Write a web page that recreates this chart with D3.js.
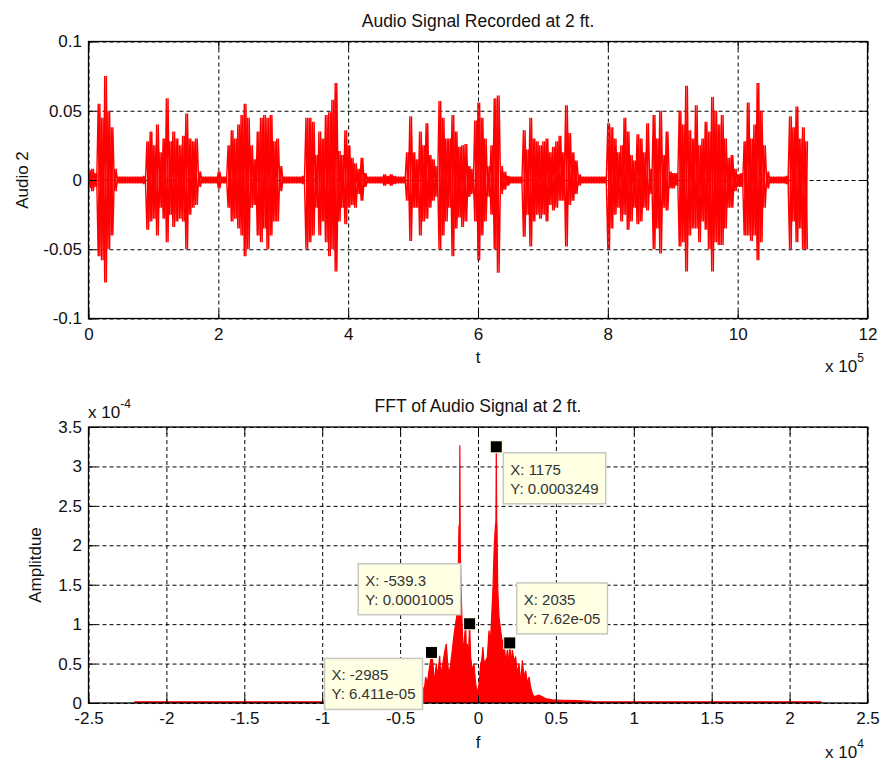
<!DOCTYPE html>
<html><head><meta charset="utf-8">
<script src="https://cdn.jsdelivr.net/npm/d3@7"></script>
<style>
html,body{margin:0;padding:0;background:#fff;}
svg{display:block;}
</style></head><body>
<svg id="chart" width="883" height="761"></svg>
<script>
// ---------------- DATA ----------------
// Audio signal envelope: one max and one min value per block of samples
const audioBlockSamples = 5000;
const audioHi = [
 0.007,0.008,0.005,0.055,0.045,0.075,0.05,0.038,0.008,0.0025,
 0.0025,0.0025,0.0025,0.0025,0.0025,0.0025,0.0025,0.003,0.028,0.035,
 0.025,0.04,0.02,0.03,0.059,0.028,0.035,0.03,0.025,0.032,
 0.048,0.03,0.028,0.03,0.006,0.0025,0.0025,0.0025,0.0025,0.0025,
 0.006,0.0025,0.0025,0.025,0.036,0.03,0.04,0.047,0.055,0.045,
 0.025,0.015,0.035,0.045,0.047,0.045,0.047,0.028,0.03,0.01,
 0.0025,0.0025,0.0025,0.0025,0.0025,0.0025,0.003,0.045,0.045,0.042,
 0.018,0.035,0.03,0.047,0.049,0.058,0.07,0.021,0.018,0.036,
 0.025,0.016,0.012,0.008,0.016,0.005,0.0025,0.0025,0.0025,0.0025,
 0.0025,0.004,0.003,0.004,0.003,0.0025,0.0025,0.0025,0.02,0.046,
 0.02,0.015,0.035,0.025,0.041,0.018,0.015,0.01,0.057,0.045,
 0.03,0.03,0.047,0.035,0.024,0.025,0.026,0.01,0.008,0.043,
 0.056,0.045,0.03,0.01,0.025,0.059,0.061,0.01,0.006,0.003,
 0.0025,0.0025,0.0025,0.0025,0.036,0.022,0.045,0.03,0.028,0.025,
 0.028,0.03,0.02,0.024,0.028,0.032,0.02,0.054,0.034,0.02,
 0.014,0.004,0.0025,0.0025,0.0025,0.0025,0.0025,0.0025,0.0025,0.0025,
 0.041,0.038,0.03,0.02,0.025,0.045,0.035,0.018,0.014,0.033,
 0.03,0.02,0.041,0.008,0.047,0.03,0.05,0.018,0.035,0.006,
 0.005,0.005,0.05,0.04,0.068,0.036,0.03,0.054,0.025,0.03,
 0.042,0.035,0.06,0.05,0.04,0.047,0.03,0.016,0.018,0.008,
 0.004,0.005,0.028,0.056,0.03,0.04,0.07,0.05,0.025,0.006,
 0.0025,0.0025,0.0025,0.0025,0.0025,0.003,0.046,0.038,0.053,0.03,
 0.038,0.028];
const audioLo = [
 -0.006,-0.008,-0.005,-0.055,-0.058,-0.074,-0.05,-0.04,-0.008,-0.0025,
 -0.0025,-0.0025,-0.0025,-0.0025,-0.0025,-0.0025,-0.0025,-0.003,-0.036,-0.03,
 -0.028,-0.04,-0.02,-0.028,-0.045,-0.025,-0.034,-0.03,-0.028,-0.03,
 -0.05,-0.025,-0.02,-0.018,-0.005,-0.0025,-0.0025,-0.0025,-0.0025,-0.0025,
 -0.006,-0.0025,-0.0025,-0.02,-0.03,-0.028,-0.035,-0.04,-0.055,-0.05,
 -0.02,-0.018,-0.04,-0.045,-0.035,-0.05,-0.04,-0.03,-0.03,-0.008,
 -0.0025,-0.0025,-0.0025,-0.0025,-0.0025,-0.0025,-0.003,-0.05,-0.045,-0.04,
 -0.02,-0.04,-0.03,-0.045,-0.055,-0.05,-0.066,-0.03,-0.02,-0.032,
 -0.02,-0.018,-0.02,-0.01,-0.015,-0.005,-0.0025,-0.0025,-0.0025,-0.0025,
 -0.0025,-0.004,-0.003,-0.004,-0.003,-0.0025,-0.0025,-0.0025,-0.015,-0.044,
 -0.02,-0.02,-0.04,-0.03,-0.028,-0.02,-0.015,-0.012,-0.05,-0.04,
 -0.03,-0.02,-0.055,-0.035,-0.027,-0.034,-0.03,-0.012,-0.01,-0.03,
 -0.058,-0.04,-0.03,-0.012,-0.025,-0.05,-0.067,-0.01,-0.007,-0.004,
 -0.0025,-0.0025,-0.0025,-0.0025,-0.041,-0.025,-0.048,-0.03,-0.025,-0.028,
 -0.025,-0.03,-0.018,-0.022,-0.02,-0.015,-0.015,-0.048,-0.018,-0.015,
 -0.01,-0.004,-0.0025,-0.0025,-0.0025,-0.0025,-0.0025,-0.0025,-0.0025,-0.0025,
 -0.05,-0.035,-0.025,-0.02,-0.03,-0.025,-0.036,-0.03,-0.02,-0.032,
 -0.03,-0.02,-0.022,-0.01,-0.05,-0.035,-0.053,-0.02,-0.022,-0.006,
 -0.006,-0.004,-0.048,-0.045,-0.066,-0.04,-0.035,-0.035,-0.045,-0.03,
 -0.036,-0.05,-0.066,-0.045,-0.047,-0.047,-0.035,-0.02,-0.02,-0.008,
 -0.005,-0.005,-0.04,-0.04,-0.044,-0.04,-0.058,-0.045,-0.02,-0.006,
 -0.0025,-0.0025,-0.0025,-0.0025,-0.0025,-0.003,-0.05,-0.03,-0.045,-0.035,
 -0.05,-0.05];

const audioXTicks = [0, 2e5, 4e5, 6e5, 8e5, 10e5, 12e5];
const audioXTickLabels = ["0","2","4","6","8","10","12"];
const audioYTicks = [-0.1, -0.05, 0, 0.05, 0.1];
const audioYTickLabels = ["-0.1","-0.05","0","0.05","0.1"];

// FFT magnitude spectrum (frequency in Hz, amplitude in units of 1e-4)
const fftFreq = [-22050,-5500,-4500,-3700,-3574,-3531,-3450,-3360,-3253,-3146,
 -3039,-2985,-2889,-2820,-2761,-2675,-2610,-2547,-2461,-2400,
 -2333,-2226,-2119,-2033,-1947,-1862,-1755,-1648,-1541,-1434,
 -1370,-1284,-1220,-1190,-1165,-1140,-1091,-1006,-950,-899,
 -792,-740,-685,-620,-539.3,-471,-364,-257,-150,-43,
 64,171,235,321,385,492,599,706,792,877,
 963,1049,1113,1150,1175,1200,1220,1263,1348,1455,
 1562,1669,1776,1883,1960,2035,2119,2204,2311,2418,
 2525,2632,2739,2846,2953,3060,3167,3274,3381,3488,
 3595,3916,4130,4344,4772,5414,6390,7220,7500,22050];
const fftAmp = [0.015,0.015,0.04,0.08,0.12,0.20,0.15,0.33,0.245,0.414,
 0.54,0.641,0.50,0.30,0.33,0.50,0.35,0.414,0.60,0.40,
 0.414,0.54,0.67,0.75,0.50,0.35,0.50,0.67,0.86,1.01,
 1.09,1.47,2.25,2.0,3.27,2.0,1.47,0.92,0.6,0.75,
 1.01,0.6,0.75,0.55,1.005,0.58,0.41,0.50,0.245,0.12,
 0.245,0.50,0.54,0.71,0.50,0.54,0.58,0.92,0.75,1.09,
 1.47,2.02,2.23,2.3,3.249,2.3,2.23,1.47,1.09,0.92,
 0.75,0.84,0.50,0.67,0.45,0.762,0.50,0.67,0.54,0.58,
 0.37,0.50,0.245,0.54,0.33,0.41,0.245,0.33,0.20,0.12,
 0.08,0.10,0.08,0.055,0.04,0.035,0.03,0.02,0.015,0.015];

const fftXTicks = [-25000,-20000,-15000,-10000,-5000,0,5000,10000,15000,20000,25000];
const fftXTickLabels = ["-2.5","-2","-1.5","-1","-0.5","0","0.5","1","1.5","2","2.5"];
const fftYTicks = [0,0.5,1,1.5,2,2.5,3,3.5];
const fftYTickLabels = ["0","0.5","1","1.5","2","2.5","3","3.5"];

// Data tips
const tipFreq = [1175, -539.3, 2035, -2985];
const tipAmp = [3.249, 1.005, 0.762, 0.6411];
const tipTextX = ["X: 1175","X: -539.3","X: 2035","X: -2985"];
const tipTextY = ["Y: 0.0003249","Y: 0.0001005","Y: 7.62e-05","Y: 6.411e-05"];

// ---------------- LAYOUT ----------------
const FONT = '"Liberation Sans", Arial, Helvetica, sans-serif';
const RED = "#ff0000";
const svg = d3.select("#chart");
svg.append("rect").attr("width",883).attr("height",761).attr("fill","#fff");

const P1 = {left:88.5, right:867.5, top:41.5, bottom:318.5};
const P2 = {left:88.5, right:867.5, top:427, bottom:703};
const tipPlacement = ["se","nw","ne","sw"];

function panel(P, x, y, xt, xl, yt, yl) {
  const W = P.right - P.left, H = P.bottom - P.top;
  const gridL = svg.append("g");
  const dataL = svg.append("g");
  const axisL = svg.append("g");
  gridL.append("g").attr("transform",`translate(0,${P.bottom})`)
    .call(d3.axisBottom(x).tickValues(xt).tickSize(-H).tickFormat(""))
    .call(s=>s.select(".domain").remove());
  gridL.append("g").attr("transform",`translate(${P.left},0)`)
    .call(d3.axisLeft(y).tickValues(yt).tickSize(-W).tickFormat(""))
    .call(s=>s.select(".domain").remove());
  gridL.selectAll("line").attr("stroke","#000").attr("stroke-width",1)
    .attr("stroke-dasharray","4,3");
  const tk = 7.5;
  const ax = [
    axisL.append("g").attr("transform",`translate(0,${P.bottom})`)
      .call(d3.axisBottom(x).tickValues(xt).tickFormat((d,i)=>xl[i]).tickSizeInner(-tk).tickSizeOuter(0).tickPadding(9)),
    axisL.append("g").attr("transform",`translate(${P.left},0)`)
      .call(d3.axisLeft(y).tickValues(yt).tickFormat((d,i)=>yl[i]).tickSizeInner(-tk).tickSizeOuter(0).tickPadding(6.5)),
    axisL.append("g").attr("transform",`translate(0,${P.top})`)
      .call(d3.axisTop(x).tickValues(xt).tickFormat("").tickSizeInner(-tk).tickSizeOuter(0)),
    axisL.append("g").attr("transform",`translate(${P.right},0)`)
      .call(d3.axisRight(y).tickValues(yt).tickFormat("").tickSizeInner(-tk).tickSizeOuter(0))
  ];
  ax.forEach(a=>{
    a.select(".domain").remove();
    a.selectAll("line").attr("stroke","#000").attr("stroke-width",1);
    a.selectAll("text").attr("font-family",FONT).attr("font-size",17).attr("fill","#111");
  });
  axisL.append("rect").attr("x",P.left).attr("y",P.top).attr("width",W).attr("height",H)
    .attr("fill","none").attr("stroke","#000").attr("stroke-width",1.3);
  return {dataL, axisL};
}

function txt(s, x, y, size, anchor) {
  return svg.append("text").attr("x",x).attr("y",y).attr("font-family",FONT)
    .attr("font-size",size).attr("fill","#111").attr("text-anchor",anchor||"middle").text(s);
}
function expLabel(x, y, base, exp) {
  const t = svg.append("text").attr("x",x).attr("y",y).attr("font-family",FONT)
    .attr("font-size",17).attr("fill","#111");
  t.append("tspan").text(base);
  t.append("tspan").attr("font-size",12).attr("dy",-10).text(exp);
}

// ---- Panel 1: audio signal ----
const x1 = d3.scaleLinear().domain([0,12e5]).range([P1.left,P1.right]);
const y1 = d3.scaleLinear().domain([-0.1,0.1]).range([P1.bottom,P1.top]);
const p1 = panel(P1, x1, y1, audioXTicks, audioXTickLabels, audioYTicks, audioYTickLabels);
// two interleaved traversals of the same max/min blocks (max-first and min-first)
const traceA = [], traceB = [];
audioHi.forEach((h,i)=>{
  const t0 = i*audioBlockSamples, t1 = t0 + audioBlockSamples/2;
  traceA.push([t0, h], [t1, audioLo[i]]);
  traceB.push([t0, audioLo[i]], [t1, h]);
});
const audioLine = d3.line().x(d=>x1(d[0])).y(d=>y1(d[1]));
[traceA, traceB].forEach(tr=>{
  p1.dataL.append("path").datum(tr).attr("d", audioLine)
    .attr("fill","none").attr("stroke",RED).attr("stroke-width",1.4)
    .attr("stroke-linejoin","miter").attr("stroke-miterlimit",1);
});

txt("Audio Signal Recorded at 2 ft.", 478, 26.5, 17.5);
txt("t", 478, 363, 17);
expLabel(825, 372, "x 10", "5");
svg.append("text").attr("transform","translate(28,180) rotate(-90)")
  .attr("font-family",FONT).attr("font-size",17).attr("fill","#111")
  .attr("text-anchor","middle").text("Audio 2");

// ---- Panel 2: FFT ----
const x2 = d3.scaleLinear().domain([-25000,25000]).range([P2.left,P2.right]);
const y2 = d3.scaleLinear().domain([0,3.5]).range([P2.bottom,P2.top]);
const p2 = panel(P2, x2, y2, fftXTicks, fftXTickLabels, fftYTicks, fftYTickLabels);
const fftPts = fftFreq.map((f,i)=>[f, fftAmp[i]]);
p2.dataL.append("path").datum(fftPts)
  .attr("d", d3.area().x(d=>x2(d[0])).y0(y2(0)).y1(d=>y2(d[1])))
  .attr("fill",RED).attr("stroke","none");
p2.dataL.append("path").datum(fftPts)
  .attr("d", d3.line().x(d=>x2(d[0])).y(d=>y2(d[1])))
  .attr("fill","none").attr("stroke",RED).attr("stroke-width",1.2);

txt("FFT of Audio Signal at 2 ft.", 478, 412, 17.5);
txt("f", 478, 747.5, 17);
expLabel(825, 757.5, "x 10", "4");
expLabel(88, 417.5, "x 10", "-4");
svg.append("text").attr("transform","translate(41,565) rotate(-90)")
  .attr("font-family",FONT).attr("font-size",17).attr("fill","#111")
  .attr("text-anchor","middle").text("Amplitdue");

// ---- Data tips ----
const tipL = svg.append("g");
tipFreq.forEach((f,i)=>{
  const mx = x2(f), my = y2(tipAmp[i]);
  const g = tipL.append("g");
  const rect = g.append("rect");
  const t1 = g.append("text").attr("font-family",FONT).attr("font-size",15).attr("fill","#333").text(tipTextX[i]);
  const t2 = g.append("text").attr("font-family",FONT).attr("font-size",15).attr("fill","#333").text(tipTextY[i]);
  const w = Math.max(t1.node().getComputedTextLength(), t2.node().getComputedTextLength()) + 14;
  const h = 51;
  const pl = tipPlacement[i];
  const left = pl.includes("e") ? mx + 7 : mx - 9 - w;
  const top = pl.includes("s") ? my + 6 : my - 9 - h;
  rect.attr("x",left).attr("y",top).attr("width",w).attr("height",h)
    .attr("fill","#ffffe4").attr("stroke","#c8c8c0").attr("stroke-width",1.5);
  t1.attr("x",left+7).attr("y",top+22);
  t2.attr("x",left+7).attr("y",top+41);
  g.append("rect").attr("x",mx-6.5).attr("y",my-6.5).attr("width",13).attr("height",13).attr("fill","#ffffe0");
  g.append("rect").attr("x",mx-5.5).attr("y",my-5.5).attr("width",11).attr("height",11).attr("fill","#000");
});
</script>
</body></html>
